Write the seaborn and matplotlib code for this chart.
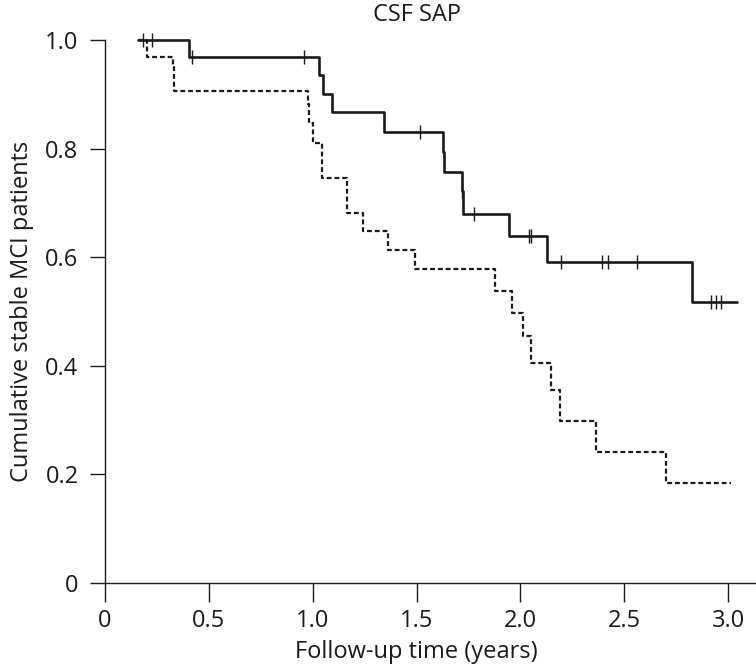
import numpy as np
import pandas as pd
import matplotlib
matplotlib.use("Agg")
import matplotlib.pyplot as plt
import seaborn as sns

# ==========================================
# Dados (Kaplan-Meier, CSF SAP)
# ==========================================
# curva contínua (grupo superior)
solid_t = [0.157, 0.404, 1.032, 1.051, 1.091, 1.345, 1.626, 1.630, 1.717, 1.725,
           1.947, 2.129, 2.825, 3.044]
solid_s = [1.0, 0.968, 0.935, 0.900, 0.867, 0.831, 0.794, 0.757, 0.721, 0.679,
           0.639, 0.591, 0.518, 0.518]
solid_cens = [0.184, 0.228, 0.417, 0.960, 1.517, 1.720, 1.778, 2.042, 2.053,
              2.194, 2.391, 2.423, 2.560, 2.916, 2.942, 2.964]

# curva tracejada (grupo inferior)
dashed_t = [0.157, 0.200, 0.326, 0.332, 0.976, 0.983, 1.003, 1.046, 1.164, 1.240,
            1.364, 1.493, 1.878, 1.958, 2.014, 2.051, 2.147, 2.190, 2.362, 2.700,
            3.014]
dashed_s = [1.0, 0.969, 0.950, 0.906, 0.883, 0.847, 0.811, 0.745, 0.681, 0.648,
            0.613, 0.578, 0.537, 0.497, 0.454, 0.406, 0.355, 0.298, 0.242, 0.184,
            0.184]

x_ticks = [0, 0.5, 1.0, 1.5, 2.0, 2.5, 3.0]
y_ticks = [0, 0.2, 0.4, 0.6, 0.8, 1.0]

df_solid = pd.DataFrame({'t': solid_t, 's': solid_s})
df_dashed = pd.DataFrame({'t': dashed_t, 's': dashed_s})
# nível da curva em cada censura
idx = np.searchsorted(solid_t, solid_cens, side='right') - 1
df_cens = pd.DataFrame({'t': solid_cens, 's': np.array(solid_s)[idx]})

sns.set_theme(style="ticks")
plt.rcParams['font.family'] = ['Open Sans', 'DejaVu Sans']
FS = 17
ink = '#1a1a1a'

fig = plt.figure(figsize=(7.56, 6.69), dpi=100)
ax = fig.add_axes([105 / 756, 1 - 583 / 669, 651 / 756, 543 / 669])

sns.lineplot(data=df_dashed, x='t', y='s', ax=ax, drawstyle='steps-post',
             estimator=None, sort=False, color=ink, lw=1.6, dashes=False,
             linestyle=(0, (2.2, 1.3)), clip_on=False)
sns.lineplot(data=df_solid, x='t', y='s', ax=ax, drawstyle='steps-post',
             estimator=None, sort=False, color=ink, lw=1.9, clip_on=False)
sns.scatterplot(data=df_cens, x='t', y='s', ax=ax, marker='|', s=90,
                linewidth=1.0, color=ink, clip_on=False, zorder=5)

ax.set_xlim(0, 3.134)
ax.set_ylim(0, 1.0)
ax.set_xticks(x_ticks)
ax.set_yticks(y_ticks)
fmt = lambda v: '0' if v == 0 else f'{v:.1f}'
ax.set_xticklabels([fmt(v) for v in x_ticks])
ax.set_yticklabels([fmt(v) for v in y_ticks])
ax.tick_params(axis='x', length=14, width=1, color=ink, labelsize=FS, pad=5, labelcolor=ink)
ax.tick_params(axis='y', length=11, width=1, color=ink, labelsize=FS, pad=8, labelcolor=ink)
for sp in ['top', 'right']:
    ax.spines[sp].set_visible(False)
for sp in ['left', 'bottom']:
    ax.spines[sp].set_color(ink)
    ax.spines[sp].set_linewidth(1)

ax.set_xlabel("Follow-up time (years)", fontsize=FS, color=ink)
ax.set_ylabel("Cumulative stable MCI patients", fontsize=FS, color=ink)
ax.xaxis.label.set_va('center')
ax.yaxis.label.set_va('center')
ax.xaxis.set_label_coords(1.5 / 3.134, (583 - 652) / 543)
ax.yaxis.set_label_coords((22 - 105) / 651, 0.5)
ax.text(1.5, 1 + 25 / 543, "CSF SAP", transform=ax.get_xaxis_transform(),
        ha='center', va='center', fontsize=FS, color=ink)

plt.savefig('out.png', dpi=100)
